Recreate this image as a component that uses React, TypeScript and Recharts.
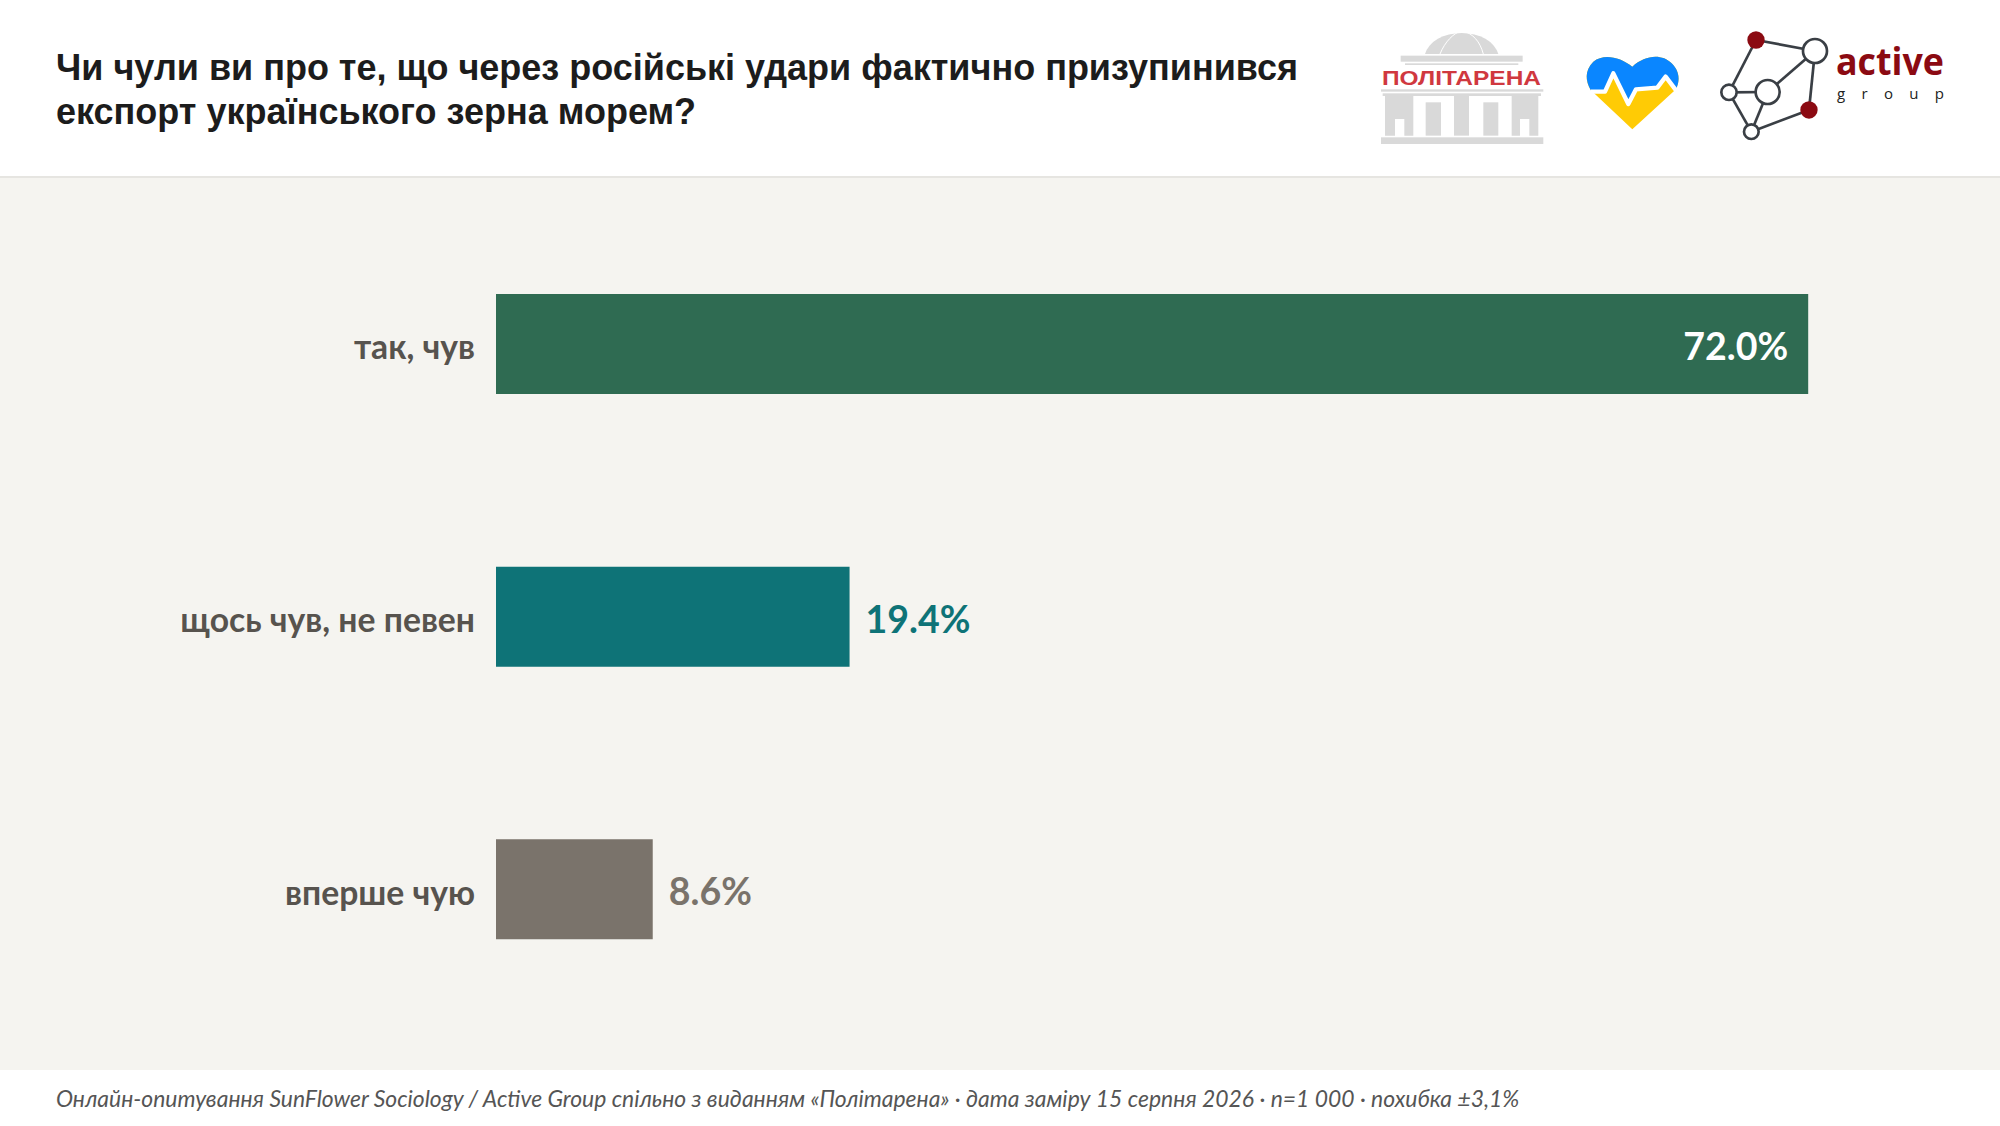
import { Bar, BarChart, Cell, LabelList, XAxis, YAxis } from "recharts";

const TITLE_LINES = [
	"Чи чули ви про те, що через російські удари фактично призупинився",
	"експорт українського зерна морем?",
];
const FOOTNOTE =
	"Онлайн-опитування SunFlower Sociology / Active Group спільно з виданням «Політарена» · дата заміру 15 серпня 2026 · n=1 000 · похибка ±3,1%";

const CATEGORIES = ["так, чув", "щось чув, не певен", "вперше чую"];
const SHARES = [72.0, 19.4, 8.6];
const BAR_COLORS = ["#2f6b52", "#0e7377", "#7a736b"];
const LABEL_COLORS = ["#ffffff", "#0e7377", "#7a736b"];

const DATA = CATEGORIES.map((name, i) => ({ name, share: SHARES[i] }));

const LABEL_FONT = "Lato, 'Noto Sans', sans-serif";

function ValueLabel(props: any) {
	const { x, y, width, height, value, index } = props;
	const inside = index === 0;
	return (
		<text
			x={inside ? x + width - 20 : x + width + 16}
			y={y + height / 2 + 3}
			dy="0.35em"
			textAnchor={inside ? "end" : "start"}
			fill={LABEL_COLORS[index]}
			fontFamily={LABEL_FONT}
			fontWeight={700}
			fontSize={37.5}
		>
			{`${value.toFixed(1)}%`}
		</text>
	);
}

function Logos() {
	const ink = "#d9d9d9";
	const edge = "#3a3f45";
	const pulse = "62,155 105,155 130,100 175,192 198,148 262,143 287,110 325,160";
	const heart =
		"M187,268 L62,150 C45,120 45,90 70,65 C100,40 150,50 187,80 C225,45 275,40 305,70 C330,95 330,122 318,148 Z";
	const nodes = [
		[138, 60, 26, "#8b0a12"],
		[315, 93, 36, "#ffffff"],
		[173, 216, 36, "#ffffff"],
		[57, 217, 23, "#ffffff"],
		[124, 335, 22, "#ffffff"],
		[297, 270, 26, "#8b0a12"],
	] as const;
	const links = [
		[0, 1],
		[0, 3],
		[3, 2],
		[3, 4],
		[2, 1],
		[2, 4],
		[1, 5],
		[5, 4],
	];
	return (
		<svg
			width={2000}
			height={176}
			style={{ position: "absolute", left: 0, top: 0 }}
		>
			{/* politarena */}
			<g transform="translate(1370,20) scale(0.3333)" fill={ink}>
				<path d="M165,102 A112,78 0 0 1 385,102 Z" />
				<path
					d="M210,102 C225,65 250,40 275,32 C310,40 330,65 340,102"
					fill="none"
					stroke="#fff"
					strokeWidth={3}
				/>
				<rect x={92} y={107} width={366} height={18} />
				<rect x={105} y={130} width={340} height={5} />
				<rect x={33} y={208} width={487} height={7} />
				<rect x={38} y={220} width={475} height={8} />
				<path d="M45,228 H130 V347 H103 V297 H75 V347 H45 Z" />
				<rect x={167} y={247} width={46} height={100} />
				<rect x={252} y={228} width={45} height={119} />
				<rect x={340} y={247} width={45} height={100} />
				<path d="M425,228 H505 V347 H478 V297 H450 V347 H425 Z" />
				<rect x={33} y={352} width={487} height={20} />
			</g>
			<text
				x={1461.5}
				y={85}
				textAnchor="middle"
				fill="#d0383f"
				fontFamily="'Liberation Sans', sans-serif"
				fontWeight={700}
				fontSize={19.5}
				textLength={159}
				lengthAdjust="spacingAndGlyphs"
			>
				ПОЛІТАРЕНА
			</text>
			{/* heart */}
			<g transform="translate(1570,40) scale(0.3333)">
				<clipPath id="heart-top">
					<polygon points={`0,155 ${pulse} 400,160 400,0 0,0`} />
				</clipPath>
				<path d={heart} fill="#ffcb05" />
				<path d={heart} fill="#0a86ff" clipPath="url(#heart-top)" />
				<polyline
					points={pulse}
					fill="none"
					stroke="#ffffff"
					strokeWidth={13}
					strokeLinejoin="round"
				/>
			</g>
			{/* active group */}
			<g transform="translate(1710,20) scale(0.3333)">
				{links.map(([a, b]) => (
					<line
						key={`${a}-${b}`}
						x1={nodes[a][0]}
						y1={nodes[a][1]}
						x2={nodes[b][0]}
						y2={nodes[b][1]}
						stroke={edge}
						strokeWidth={8}
					/>
				))}
				{nodes.map(([cx, cy, r, fill]) => (
					<circle
						key={`${cx}-${cy}`}
						cx={cx}
						cy={cy}
						r={r}
						fill={fill}
						stroke={fill === "#ffffff" ? edge : "none"}
						strokeWidth={8}
					/>
				))}
			</g>
			<text
				x={1836}
				y={75}
				fill="#8b0a12"
				fontFamily="'Open Sans', sans-serif"
				fontWeight={700}
				fontSize={37}
				textLength={108}
				lengthAdjust="spacingAndGlyphs"
			>
				active
			</text>
			<text
				x={1837}
				y={99}
				fill="#222"
				fontFamily="'Open Sans', sans-serif"
				fontSize={15}
				textLength={107}
			>
				group
			</text>
		</svg>
	);
}

export default function App() {
	return (
		<div
			style={{
				position: "absolute",
				left: 0,
				top: 0,
				width: 2000,
				height: 1126,
				background: "#ffffff",
				overflow: "hidden",
			}}
		>
			<div
				style={{
					position: "absolute",
					left: 56,
					top: 46,
					fontFamily: "'Liberation Sans', sans-serif",
					fontWeight: 700,
					fontSize: 36,
					lineHeight: "44px",
					color: "#1c1c1c",
					whiteSpace: "nowrap",
				}}
			>
				{TITLE_LINES.map((line) => (
					<div key={line}>{line}</div>
				))}
			</div>
			<Logos />
			<div
				style={{
					position: "absolute",
					left: 0,
					top: 176,
					width: 2000,
					height: 2,
					background: "#e6e5e1",
				}}
			/>
			<div
				style={{
					position: "absolute",
					left: 0,
					top: 178,
					width: 2000,
					height: 892,
					background: "#f5f4f0",
				}}
			>
				<BarChart
					width={2000}
					height={892}
					data={DATA}
					layout="vertical"
					margin={{ top: 30, right: 46, bottom: 44, left: 0 }}
					barCategoryGap={0}
				>
					<XAxis type="number" domain={[0, 80]} hide />
					<YAxis
						type="category"
						dataKey="name"
						width={496}
						axisLine={false}
						tickLine={false}
						tickMargin={15}
						tick={{
							fill: "#57534e",
							fontFamily: LABEL_FONT,
							fontWeight: 700,
							fontSize: 33.7,
							dy: 3,
						}}
					/>
					<Bar dataKey="share" barSize={100} isAnimationActive={false}>
						{DATA.map((row, i) => (
							<Cell key={row.name} fill={BAR_COLORS[i]} />
						))}
						<LabelList dataKey="share" content={ValueLabel} />
					</Bar>
				</BarChart>
			</div>
			<div
				style={{
					position: "absolute",
					left: 56,
					top: 1084,
					fontFamily: LABEL_FONT,
					fontStyle: "italic",
					fontSize: 22.9,
					lineHeight: "28px",
					color: "#555555",
					whiteSpace: "nowrap",
				}}
			>
				{FOOTNOTE}
			</div>
		</div>
	);
}
